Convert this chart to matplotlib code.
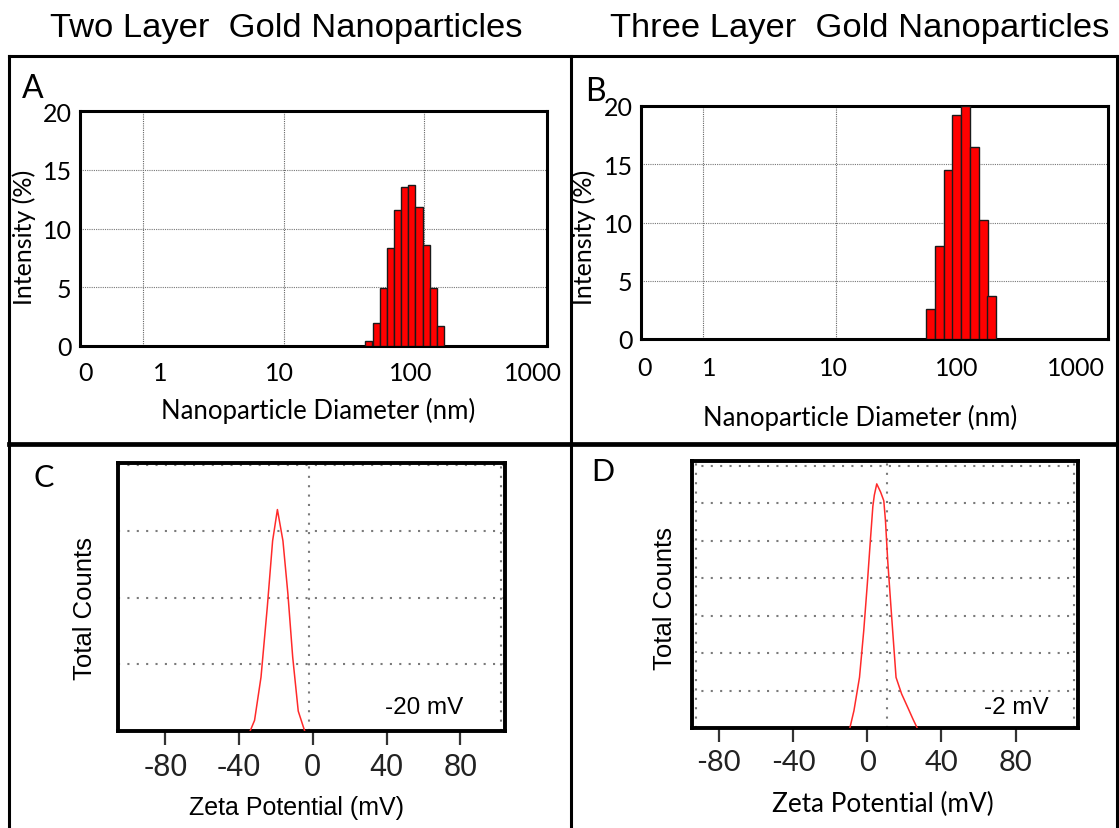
import matplotlib.pyplot as plt
from matplotlib.lines import Line2D
from matplotlib.ticker import NullFormatter

plt.rcParams['axes.unicode_minus'] = False

W, H = 1119, 829
CAL = 'Lato'              # stand-in for the Calibri text in the panels
ARI = 'Liberation Sans'   # Arial-like text

# ---- DLS size distributions, intensity (%) per size bin ----
# two layer gold nanoparticles (bin centres, nm)
a_diam = [40.3, 45.7, 51.5, 57.8, 64.7, 72.8, 81.8, 92.0, 104.0, 116.7, 130.8]
a_int = [0.4, 2.0, 4.9, 8.3, 11.6, 13.5, 13.7, 11.8, 8.6, 4.9, 1.7]
# three layer gold nanoparticles
b_diam = [51.6, 60.0, 70.0, 80.9, 94.1, 110.0, 127.8, 147.9]
b_int = [2.6, 8.0, 14.5, 19.2, 20.0, 16.5, 10.2, 3.7]

size_ticklabels = ["0", "1", "10", "100", "1000"]
size_grid = [1, 10, 100]
intensity_ticks = [0, 5, 10, 15, 20]

# ---- zeta potential distributions (relative counts) ----
c_zeta = [-34.0, -31.6, -28.1, -24.7, -21.8, -19.2, -16.2, -13.5, -10.9, -7.9, -4.4]
c_counts = [0.0, 0.16, 0.81, 1.86, 2.86, 3.33, 2.86, 2.06, 1.11, 0.30, 0.0]
d_zeta = [-9.4, -7.2, -4.2, -1.9, 0.0, 1.5, 3.0, 3.8, 5.1, 7.2, 8.9, 9.8,
          11.0, 12.9, 15.5, 18.5, 21.8, 24.6, 26.9]
d_counts = [0.0, 0.46, 1.35, 2.60, 3.83, 4.89, 5.91, 6.21, 6.51, 6.29, 6.06, 5.53,
            4.47, 3.13, 1.35, 0.91, 0.55, 0.24, 0.0]
zeta_ticks = [-80, -40, 0, 40, 80]
c_note = "-20 mV"
d_note = "-2 mV"

titles = ["Two Layer  Gold Nanoparticles", "Three Layer  Gold Nanoparticles"]


def px_rect(left, top, right, bottom):
    """pixel box (from top-left) -> figure fraction rect"""
    return [left / W, 1 - bottom / H, (right - left) / W, (bottom - top) / H]


fig = plt.figure(figsize=(W / 100, H / 100), dpi=100)


def frame_line(x0, y0, x1, y1, lw=2.2):
    fig.add_artist(Line2D([x0 / W, x1 / W], [1 - y0 / H, 1 - y1 / H],
                          transform=fig.transFigure, color='black',
                          linewidth=lw, solid_capstyle='projecting'))


def size_panel(rect, diam, inten, logw, xlim, label_pos, tickpad, xlab_xy, ylab_xy,
               letter, letter_xy):
    ax = fig.add_axes(rect)
    half = 10 ** (logw / 2)
    left = [d / half for d in diam]
    width = [d * half - l for d, l in zip(diam, left)]
    ax.bar(left, inten, width=width, align='edge', color='#ff0000',
           edgecolor='#1a1a1a', linewidth=1.0, zorder=3)
    ax.set_xscale('log')
    ax.set_xlim(*xlim)
    ax.set_ylim(0, 20)
    ax.set_xticks(label_pos, labels=size_ticklabels)
    ax.set_xticks(size_grid, minor=True)
    ax.xaxis.set_minor_formatter(NullFormatter())
    ax.set_yticks(intensity_ticks)
    ax.grid(True, which='minor', axis='x', color='#666666', linewidth=0.8,
            linestyle=(0, (1, 1)))
    ax.grid(True, which='major', axis='y', color='#777777', linewidth=0.8,
            linestyle=(0, (1, 1)))
    ax.grid(False, which='major', axis='x')
    ax.tick_params(which='both', length=0, labelsize=18, labelfontfamily=CAL)
    ax.tick_params(axis='x', pad=tickpad)
    ax.tick_params(axis='y', pad=6)
    for s in ax.spines.values():
        s.set_linewidth(2.2)
    ax.set_xlabel("Nanoparticle Diameter (nm)", family=CAL, fontsize=18.5)
    ax.set_ylabel("Intensity (%)", family=CAL, fontsize=18)
    ax.xaxis.set_label_coords(*xlab_xy)
    ax.yaxis.set_label_coords(*ylab_xy)
    fig.text(letter_xy[0] / W, 1 - letter_xy[1] / H, letter, family=CAL,
             fontsize=23, ha='center', va='center')
    return ax


def zeta_panel(rect, zeta, counts, xlim, ytop, ygrid, xgrid, note, note_xy,
               tick_font, tick_size, label_font, label_size, xlab_xy, ylab_xy,
               letter, letter_xy):
    ax = fig.add_axes(rect)
    ax.plot(zeta, counts, color='#ff2a2a', linewidth=1.1, zorder=3)
    ax.set_xlim(*xlim)
    ax.set_ylim(0, ytop)
    ax.set_xticks(zeta_ticks)
    ax.set_xticks(xgrid, minor=True)
    ax.set_yticks(ygrid)
    ax.grid(True, which='minor', axis='x', color='#7a7a7a', linewidth=1.5,
            linestyle=(0, (1, 3.5)))
    ax.grid(True, which='major', axis='y', color='#7a7a7a', linewidth=1.5,
            linestyle=(0, (1, 3.5)))
    ax.tick_params(axis='y', length=0, labelleft=False)
    ax.tick_params(axis='x', which='minor', length=0)
    ax.tick_params(axis='x', which='major', direction='out', length=10, width=1.6,
                   color='#333333', pad=5, labelsize=tick_size,
                   labelfontfamily=tick_font, labelcolor='#222222')
    for s in ax.spines.values():
        s.set_linewidth(2.8)
    ax.set_xlabel("Zeta Potential (mV)", family=label_font, fontsize=label_size)
    ax.set_ylabel("Total Counts", family=ARI, fontsize=18.5)
    ax.xaxis.set_label_coords(*xlab_xy)
    ax.yaxis.set_label_coords(*ylab_xy)
    ax.text(note_xy[0], note_xy[1], note, transform=ax.transAxes, family=ARI,
            fontsize=17.5, ha='center', va='center')
    fig.text(letter_xy[0] / W, 1 - letter_xy[1] / H, letter, family=CAL,
             fontsize=22, ha='center', va='center')
    return ax


# outer frame of the composite
frame_line(9, 57, 1117, 57)
frame_line(9, 57, 9, 829)
frame_line(570.5, 57, 570.5, 829)
frame_line(1117, 57, 1117, 829)
frame_line(9, 445, 1117, 445, lw=3.4)

fig.text(286 / W, 1 - 28 / H, titles[0], family=ARI, fontsize=24.8, ha='center', va='center')
fig.text(860 / W, 1 - 28 / H, titles[1], family=ARI, fontsize=24.8, ha='center', va='center')

size_panel(px_rect(80, 112, 547, 347), a_diam, a_int, 0.0511, (0.356, 750),
           [0.39, 1.32, 9.4, 80, 600], 10.5, (0.509, -0.215), (-0.094, 0.468),
           "A", (33, 89))
size_panel(px_rect(641, 107, 1108, 340), b_diam, b_int, 0.0655, (0.342, 1109),
           [0.366, 1.11, 9.5, 81, 638], 12.5, (0.47, -0.28), (-0.096, 0.442),
           "B", (595, 92))

zeta_panel(px_rect(118, 464, 505, 732), c_zeta, c_counts, (-105.7, 104.3), 4.03,
           [1, 2, 3, 4], [-2, 102], c_note, (0.79, 0.09), ARI, 22, ARI, 18,
           (0.46, -0.24), (-0.054, 0.459), "C", (44, 478))
zeta_panel(px_rect(692, 462, 1078, 729), d_zeta, d_counts, (-94.5, 113.6), 7.12,
           [1, 2, 3, 4, 5, 6, 7], [-92.2, 10.5, 111.4], d_note, (0.84, 0.08),
           CAL, 21, CAL, 18.8, (0.494, -0.236), (-0.039, 0.49), "D", (603, 472))

fig.savefig("out.png", dpi=100)
